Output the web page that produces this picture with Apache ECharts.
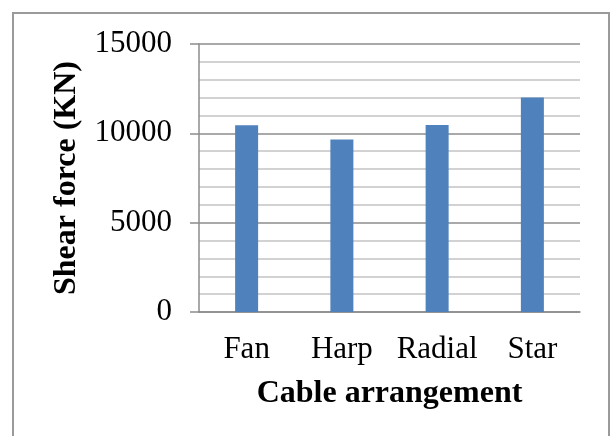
<!DOCTYPE html>
<html>
<head>
<meta charset="utf-8">
<script src="https://cdn.jsdelivr.net/npm/echarts@6/dist/echarts.min.js"></script>
<style>
  html, body { margin: 0; padding: 0; background: #fff; }
  #chart { width: 611px; height: 436px; }
</style>
</head>
<body>
<div id="chart"></div>
<script>
// data
var categories = ['Fan', 'Harp', 'Radial', 'Star'];
var shearForce = [10450, 9660, 10460, 12000];
var yTicks = [0, 5000, 10000, 15000];

var chart = echarts.init(document.getElementById('chart'));
var font = 'Liberation Serif';

var option = {
  animation: false,
  backgroundColor: '#fff',
  graphic: [
    {
      // outer frame, bottom runs off the picture
      type: 'rect',
      shape: { x: 13, y: 13, width: 596, height: 440 },
      style: { fill: 'none', stroke: '#9a9a9a', lineWidth: 2 },
      silent: true
    }
  ],
  grid: { left: 199, right: 31, top: 44, bottom: 124 },
  xAxis: {
    type: 'category',
    data: categories,
    name: 'Cable arrangement',
    nameLocation: 'middle',
    nameGap: 66,
    nameTextStyle: { fontFamily: font, fontSize: 32, fontWeight: 'bold', color: '#000' },
    axisLine: { lineStyle: { color: '#8c8c8c', width: 1.5 } },
    axisTick: { show: false },
    axisLabel: { fontFamily: font, fontSize: 31, color: '#000', margin: 22, interval: 0 }
  },
  yAxis: {
    type: 'value',
    min: yTicks[0],
    max: yTicks[yTicks.length - 1],
    interval: 5000,
    name: 'Shear force (KN)',
    nameLocation: 'middle',
    nameGap: 116,
    nameTextStyle: { fontFamily: font, fontSize: 32, fontWeight: 'bold', color: '#000' },
    axisLine: { show: true, lineStyle: { color: '#8c8c8c', width: 1.5 } },
    axisTick: { show: true, length: 9, lineStyle: { color: '#8c8c8c', width: 1.5 } },
    axisLabel: {
      fontFamily: font, fontSize: 31, color: '#000', margin: 27,
      formatter: function (v) { return String(v); }
    },
    splitLine: { lineStyle: { color: '#8c8c8c', width: 1.5 } },
    minorTick: { show: false, splitNumber: 5 },
    minorSplitLine: { show: true, lineStyle: { color: '#c4c4c4', width: 1.5 } }
  },
  series: [
    {
      type: 'bar',
      data: shearForce,
      barWidth: 23,
      itemStyle: { color: '#4f81bd' }
    }
  ]
};

chart.setOption(option);
</script>
</body>
</html>
